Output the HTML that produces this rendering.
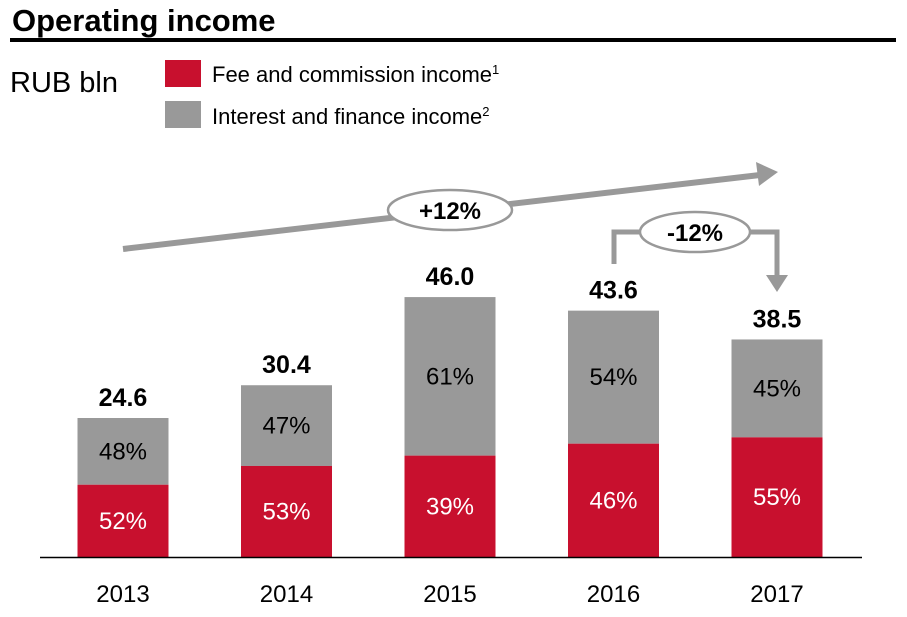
<!DOCTYPE html>
<html><head><meta charset="utf-8"><style>
body{margin:0;background:#fff;font-family:"Liberation Sans",sans-serif;}
svg{display:block}
</style></head><body>
<svg width="907" height="617" viewBox="0 0 907 617" xmlns="http://www.w3.org/2000/svg" font-family="Liberation Sans, sans-serif">
<text x="12" y="31" font-size="31" font-weight="bold" fill="#000">Operating income</text>
<rect x="10" y="38" width="886" height="4" fill="#000"/>
<text x="10" y="92" font-size="29" fill="#000">RUB bln</text>
<rect x="165" y="60" width="36" height="27" fill="#c8102e"/>
<text x="212" y="82" font-size="22" fill="#000">Fee and commission income<tspan font-size="13" dy="-8">1</tspan></text>
<rect x="165" y="101" width="36" height="27" fill="#999"/>
<text x="212" y="124" font-size="22" fill="#000">Interest and finance income<tspan font-size="13" dy="-8">2</tspan></text>
<g id="bars"></g>
<line x1="40" y1="557.5" x2="862" y2="557.5" stroke="#000" stroke-width="1.5"/>
<line x1="123" y1="249" x2="760" y2="175" stroke="#999" stroke-width="6"/>
<polygon points="778,172 756,162 759,186" fill="#999"/>
<ellipse cx="450" cy="210" rx="62" ry="20" fill="#fff" stroke="#999" stroke-width="2.5"/>
<text x="450" y="219" font-size="24" font-weight="bold" text-anchor="middle">+12%</text>
<polyline points="614,264 614,232 777,232 777,278" fill="none" stroke="#999" stroke-width="5"/>
<polygon points="766,275 788,275 777,292" fill="#999"/>
<ellipse cx="695" cy="232" rx="55" ry="20" fill="#fff" stroke="#999" stroke-width="2.5"/>
<text x="695" y="241" font-size="24" font-weight="bold" text-anchor="middle">-12%</text>
</svg>
<script>
const years=["2013","2014","2015","2016","2017"];
const totals=[24.6,30.4,46.0,43.6,38.5];
const feePct=[52,53,39,46,55];
const interestPct=[48,47,61,54,45];
const NS="http://www.w3.org/2000/svg";
const g=document.getElementById("bars");
const base=557, scale=139/24.6, x0=123, step=163.5, bw=91;
function y(v){return base-v*scale;}
function mk(tag,attrs){const e=document.createElementNS(NS,tag);for(const k in attrs)e.setAttribute(k,attrs[k]);g.appendChild(e);return e;}
years.forEach((yr,i)=>{
  const cx=x0+i*step, t=totals[i];
  const feeH=t*feePct[i]/100;
  const top=y(t), mid=y(feeH);
  const r1=mk("rect",{x:cx-bw/2,y:top,width:bw,height:mid-top,fill:"#999"});
  
  
  const r2=mk("rect",{x:cx-bw/2,y:mid,width:bw,height:base-mid,fill:"#c8102e"});
  
  
  const t1=mk("text",{x:cx,y:(top+mid)/2+8,"font-size":24,"text-anchor":"middle",fill:"#000"});t1.textContent=interestPct[i]+"%";
  
  
  const t2=mk("text",{x:cx,y:(mid+base)/2+8,"font-size":24,"text-anchor":"middle",fill:"#fff"});t2.textContent=feePct[i]+"%";
  
  
  const t3=mk("text",{x:cx,y:top-12,"font-size":25,"font-weight":"bold","text-anchor":"middle",fill:"#000"});t3.textContent=t.toFixed(1);
  
  
  const t4=mk("text",{x:cx,y:602,"font-size":24,"text-anchor":"middle",fill:"#000"});t4.textContent=yr;
  
  
});
</script>
</body></html>
